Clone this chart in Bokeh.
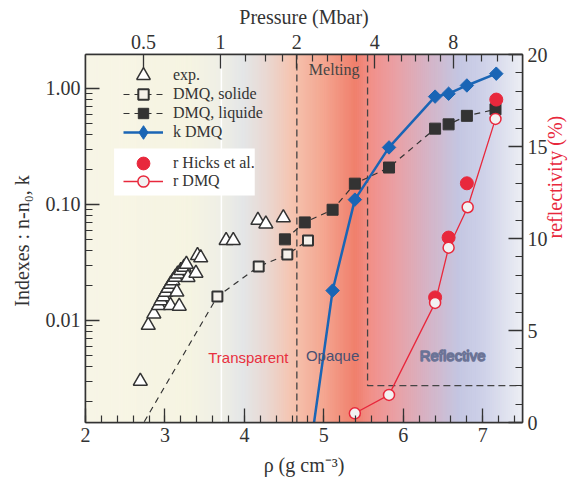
import math
import numpy as np
from bokeh.plotting import figure
from bokeh.models import (Range1d, LinearAxis, LinearScale, FixedTicker, SingleIntervalTicker,
                          PrintfTickFormatter, Legend, LegendItem, Label, BoxAnnotation)
from bokeh.embed import file_html
from bokeh.resources import INLINE

# ---------------- data ----------------
exp_rho = [2.69, 2.79, 2.86, 2.92, 2.95, 2.98, 3.01, 3.04, 3.07, 3.10, 3.13, 3.16, 3.20,
           3.24, 3.27, 3.07, 3.18, 3.15, 3.29, 3.39, 3.41, 3.45, 3.77, 3.86, 4.17, 4.27, 4.49]
exp_val = [0.0030, 0.0091, 0.0114, 0.0135, 0.0148, 0.0160, 0.0175, 0.0190, 0.0205, 0.0220,
           0.0236, 0.0252, 0.0270, 0.0288, 0.0305, 0.0135, 0.0133, 0.0176, 0.0235, 0.0256,
           0.0363, 0.0347, 0.049, 0.049, 0.073, 0.068, 0.077]

sol_rho = [2.60, 3.66, 4.18, 4.54, 4.80]
sol_val = [0.00092, 0.0161, 0.0292, 0.037, 0.049]

liq_rho = [4.51, 4.76, 5.11, 5.39, 5.82, 6.40, 6.57, 6.80, 7.16]
liq_val = [0.050, 0.070, 0.090, 0.151, 0.208, 0.45, 0.49, 0.58, 0.66]

k_rho = [4.77, 5.11, 5.39, 5.82, 6.40, 6.57, 6.80, 7.17]
k_val = [0.0004, 0.0181, 0.110, 0.31, 0.85, 0.90, 1.06, 1.34]

hicks_rho = [6.40, 6.57, 6.80, 7.17]
hicks_r = [6.8, 10.05, 13.0, 17.55]

rdmq_rho = [5.39, 5.82, 6.40, 6.57, 6.81, 7.16]
rdmq_r = [0.5, 1.5, 6.5, 9.5, 11.7, 16.5]

# pressure (top axis) ticks, located in density units
press_labels = ["0.5", "1", "2", "4", "8"]
press_rho = [2.73, 3.70, 4.66, 5.64, 6.63]
press_minor_rho = [4.01, 4.26, 4.48, 4.86, 5.04, 5.22, 5.41, 5.81, 5.98, 6.15, 6.32,
                   6.47, 6.80, 6.99, 7.19, 7.38]

# regime boundaries
melt_lo = 4.66
melt_hi = 5.55
refl_threshold = 2.0
one_mbar_rho = 3.71

# ---------------- styling ----------------
X0, X1 = 2.0, 7.5
Y0, Y1 = 0.00132, 1.96
SERIF = "Liberation Serif"
SANS = "Liberation Sans"
DARK = "#333333"
BLUE = "#1a65b5"
RED = "#e8283c"
FRAME_BOTTOM = 422  # page pixel of the frame bottom, used for legend placement

p = figure(width=579, height=481, x_range=Range1d(X0, X1), y_range=Range1d(Y0, Y1),
           y_axis_type="log", output_backend="svg", toolbar_location=None,
           min_border_left=85, min_border_right=51, min_border_top=54, min_border_bottom=59)
p.extra_y_ranges = {"refl": Range1d(0, 20)}
p.extra_y_scales = {"refl": LinearScale()}
p.xgrid.visible = False
p.ygrid.visible = False
p.outline_line_color = DARK
p.outline_line_width = 1.5
p.background_fill_color = "white"
p.border_fill_color = "white"

# background gradient
stops_rho = [2.0, 3.3, 3.7, 4.0, 4.3, 4.6, 5.0, 5.4, 5.6, 5.9, 6.3, 6.7, 7.0, 7.5]
stops_col = ["#f7f5e6", "#f6f4e2", "#efefe6", "#e4e6e7", "#ead7d0", "#f5c4b0", "#f4a690",
             "#f07f6c", "#f1908a", "#eaa0a4", "#d6b2c4", "#c4c6e2", "#cdd0e8", "#eceef4"]
def _rgb(h):
    return [int(h[i:i + 2], 16) for i in (1, 3, 5)]
stop_rgb = np.array([_rgb(c) for c in stops_col], dtype=float)
edges = np.linspace(X0, X1, 221)
mids = 0.5 * (edges[:-1] + edges[1:])
cols = []
for m in mids:
    r = np.interp(m, stops_rho, stop_rgb[:, 0])
    g = np.interp(m, stops_rho, stop_rgb[:, 1])
    b = np.interp(m, stops_rho, stop_rgb[:, 2])
    cols.append("#%02x%02x%02x" % (int(round(r)), int(round(g)), int(round(b))))
p.quad(left=edges[:-1], right=edges[1:], bottom=Y0, top=Y1, fill_color=cols,
       line_color=cols, line_width=1)

# reference lines
p.line([one_mbar_rho, one_mbar_rho], [Y0, Y1], line_color="white", line_width=1.5)
p.line([melt_lo, melt_lo], [Y0, Y1], line_color="#444444", line_width=1.3, line_dash="7 4")
p.line([melt_hi, melt_hi, X1], [20, refl_threshold, refl_threshold], y_range_name="refl",
       line_color="#444444", line_width=1.3, line_dash="7 4")

# series
r_exp = p.scatter(exp_rho, exp_val, marker="triangle", size=14, fill_color="white",
                  line_color=DARK, line_width=1.5)
r_sol_l = p.line(sol_rho, sol_val, line_color=DARK, line_width=1.2, line_dash="6 5")
r_sol_m = p.scatter(sol_rho, sol_val, marker="square", size=10, fill_color="#f4f0ea",
                    line_color=DARK, line_width=2)
r_liq_l = p.line(liq_rho, liq_val, line_color=DARK, line_width=1.2, line_dash="6 5")
r_liq_m = p.scatter(liq_rho, liq_val, marker="square", size=11, fill_color=DARK,
                    line_color=DARK)
r_k_l = p.line(k_rho, k_val, line_color=BLUE, line_width=2.5)
# small diamond glyph hidden under the rotated squares: it provides the legend's diamond
r_k_leg = p.scatter(k_rho, k_val, marker="diamond", size=8, fill_color=BLUE, line_color=BLUE)
r_k_m = p.scatter(k_rho, k_val, marker="square", angle=math.pi / 4, size=9.5,
                  fill_color=BLUE, line_color=BLUE)
r_h = p.scatter(hicks_rho, hicks_r, y_range_name="refl", marker="circle", size=13,
                fill_color=RED, line_color=RED)
r_r_l = p.line(rdmq_rho, rdmq_r, y_range_name="refl", line_color=RED, line_width=1.3)
r_r_m = p.scatter(rdmq_rho, rdmq_r, y_range_name="refl", marker="circle", size=11,
                  fill_color="#f2f2f2", line_color=RED, line_width=1.5)

# axes
def style(ax, size="20px"):
    ax.axis_line_color = DARK
    ax.axis_line_width = 1.5
    ax.major_tick_line_color = DARK
    ax.minor_tick_line_color = DARK
    ax.major_tick_line_width = 1.3
    ax.minor_tick_line_width = 1.2
    ax.major_tick_in = 14
    ax.major_tick_out = 0
    ax.minor_tick_in = 7
    ax.minor_tick_out = 0
    ax.major_label_text_font = SERIF
    ax.major_label_text_font_size = size
    ax.major_label_text_color = DARK
    ax.axis_label_text_font = SERIF
    ax.axis_label_text_font_size = size
    ax.axis_label_text_font_style = "normal"
    ax.axis_label_text_color = DARK

xb = p.xaxis[0]
style(xb)
xb.ticker = SingleIntervalTicker(interval=1, num_minor_ticks=5)
xb.axis_label = "ρ (g cm⁻³)"
xb.major_label_standoff = 5
xb.axis_label_standoff = 9

yl = p.yaxis[0]
style(yl)
minor_log = [k * 10.0 ** n for n in range(-3, 1) for k in range(2, 10)]
yl.ticker = FixedTicker(ticks=[0.01, 0.1, 1.0], minor_ticks=minor_log)
yl.formatter = PrintfTickFormatter(format="%.2f")
yl.axis_label = "Indexes : n-n₀,  k"
yl.major_label_standoff = 5
yl.axis_label_standoff = 10

yr = LinearAxis(y_range_name="refl", ticker=SingleIntervalTicker(interval=5, num_minor_ticks=5),
                axis_label="reflectivity (%)")
style(yr)
yr.axis_label_text_color = RED
yr.major_label_standoff = 5
yr.axis_label_standoff = 4
if "axis_label_orientation" in LinearAxis.properties():
    yr.axis_label_orientation = math.pi / 2
p.add_layout(yr, "right")

xt = LinearAxis(ticker=FixedTicker(ticks=press_rho, minor_ticks=press_minor_rho),
                major_label_overrides={r: t for r, t in zip(press_rho, press_labels)},
                axis_label="Pressure (Mbar)")
style(xt)
xt.major_label_standoff = 6
xt.axis_label_standoff = 4
p.add_layout(xt, "above")

# region labels
has_outline = "text_outline_color" in Label.properties()
lab_kw = dict(text_align="center", text_baseline="middle", text_font_size="15px")
p.add_layout(Label(x=4.05, y=0.0048, text="Transparent", text_font=SANS,
                   text_color="#e8303e", **lab_kw))
p.add_layout(Label(x=5.11, y=0.0050, text="Opaque", text_font=SANS,
                   text_color="#4a5072", **lab_kw))
refl = Label(x=6.62, y=0.0050, text="Reflective", text_font=SANS,
             text_color="#eef0f8" if has_outline else "#6a7090", **lab_kw)
if has_outline:
    refl.text_outline_color = "#6b7396"
p.add_layout(refl)
p.add_layout(Label(x=5.13, y=1.45, text="Melting", text_font=SERIF, text_color="#444444",
                   text_align="center", text_baseline="middle", text_font_size="16px"))

# legends: one single-item legend per entry so that markers keep a readable size
leg_kw = dict(glyph_width=40, label_standoff=10,
              label_text_font=SERIF, label_text_font_size="16px", label_text_color=DARK,
              margin=0, border_line_alpha=0, padding=0, background_fill_alpha=0)
# (label, renderers, row centre in page px, glyph box height)
legend_entries = [("exp.", [r_exp], 75, 34),
                  ("DMQ, solide", [r_sol_l, r_sol_m], 94, 26),
                  ("DMQ, liquide", [r_liq_l, r_liq_m], 113, 26),
                  ("k DMQ", [r_k_l, r_k_leg], 132, 34),
                  ("r Hicks et al.", [r_h], 163, 32),
                  ("r DMQ", [r_r_l, r_r_m], 181, 28)]
# white box behind the second legend group
p.add_layout(BoxAnnotation(left=2.36, right=4.13, bottom=0.1197, top=0.304,
                           fill_color="white", fill_alpha=1, line_alpha=0))
for label, rends, yc, gh in legend_entries:
    p.add_layout(Legend(items=[LegendItem(label=label, renderers=rends)],
                        glyph_height=gh, label_height=gh,
                        location=(38, FRAME_BOTTOM - (yc + gh / 2)), **leg_kw))

open("out.html", "w").write(file_html(p, INLINE))
